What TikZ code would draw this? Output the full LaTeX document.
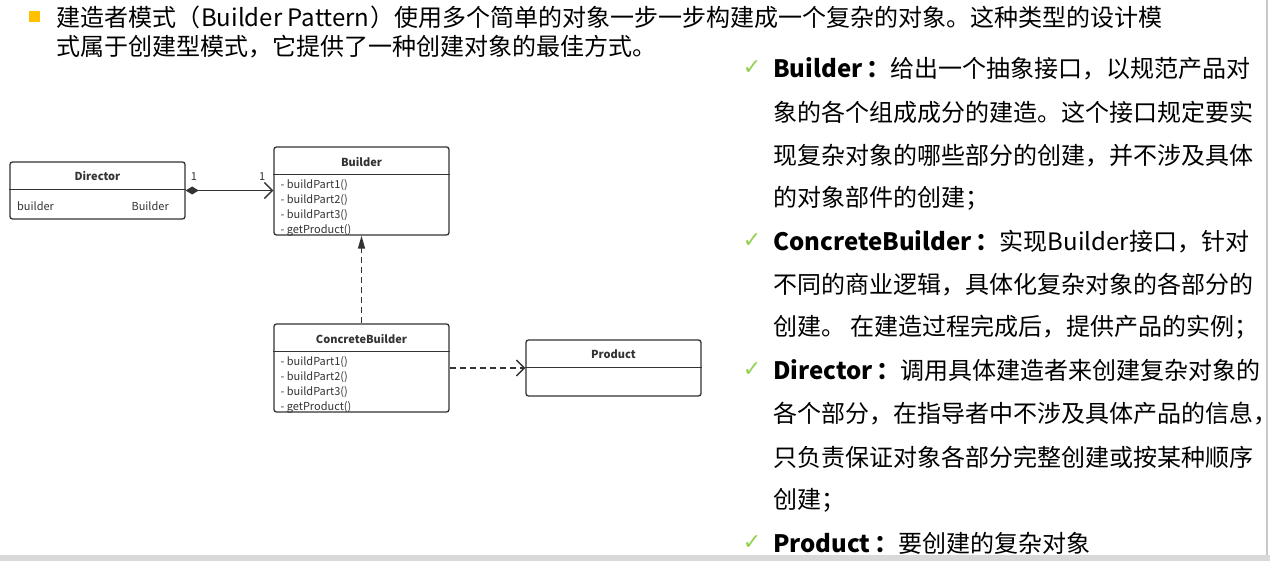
\documentclass[tikz,border=0pt]{standalone}
\usepackage{fontspec}
\setmainfont{Noto Sans}
\newfontfamily\cjk{Noto Sans CJK SC}
\newfontfamily\symfont{DejaVu Sans}
\usetikzlibrary{arrows.meta,positioning}
\definecolor{umlgray}{RGB}{51,51,51}
\definecolor{tickgreen}{RGB}{146,208,80}
\definecolor{bulletorange}{RGB}{255,192,0}
\definecolor{bargray}{RGB}{217,217,217}
\definecolor{edgegray}{RGB}{200,200,200}
\newcommand\keyword[1]{{\bfseries #1\hspace{4pt}：}}
\tikzset{
  umlbox/.style={draw=umlgray, line width=1.3pt, rounded corners=2.5pt,
    minimum width=175pt, inner sep=0pt},
  umltitle/.style={font=\cjk\fontsize{11}{13}\selectfont\bfseries, text=umlgray},
  umlops/.style={font=\cjk\fontsize{11}{15}\selectfont, text=umlgray, align=left,
    inner sep=0pt, anchor=north west},
  umlattr/.style={font=\cjk\fontsize{11}{13}\selectfont, text=umlgray, inner sep=0pt},
  mult/.style={font=\cjk\fontsize{11}{13}\selectfont, text=umlgray, inner sep=1pt},
  assoc/.style={draw=umlgray, line width=1.4pt},
  depend/.style={draw=umlgray, line width=1.4pt, dash pattern=on 6pt off 4pt},
  headline/.style={font=\cjk\fontsize{24}{30}\selectfont, anchor=west, inner sep=0pt},
  descline/.style={font=\cjk\fontsize{24}{30}\selectfont, anchor=west, inner sep=0pt},
  tick/.style={font=\symfont\fontsize{22}{24}\selectfont, text=tickgreen, inner sep=0pt},
  sqbullet/.style={fill=bulletorange, minimum size=11pt, inner sep=0pt},
}
\begin{document}
\begin{tikzpicture}[x=1pt, y=-1pt]
  \useasboundingbox (0,0) rectangle (1270,561);
  \fill[bargray] (0,555) rectangle (1270,561);
  \draw[edgegray, line width=1.5pt] (1267,0) -- (1267,555);

  % heading
  \node[sqbullet] (bullet) at (34.5,16.5) {};
  \node[headline] (head1) at (56,17) {建造者模式（\hspace{1pt}Builder Pattern\hspace{1pt}）使用多个简单的对象一步一步构建成一个复杂的对象。这种类型的设计模}
   node[headline] (head2) at (56,47) {式属于创建型模式，它提供了一种创建对象的最佳方式。};

  % classes
  \node[umlbox, minimum height=57pt] (director) at (97.5,190.5) {};
  \node[umlbox, minimum height=88pt] (builder) at (361.5,191) {};
  \node[umlbox, minimum height=88pt] (concrete) at (361.5,368) {};
  \node[umlbox, minimum height=56pt] (product) at (613.5,368) {};
  \foreach \c in {director,builder,concrete,product}
    \draw[umlgray, line width=1.3pt] ([yshift=-28.5pt]\c.north west) -- ([yshift=-28.5pt]\c.north east);
  \node[umltitle] (directortitle) at ([yshift=-15pt]director.north) {Director};
  \node[umltitle] (buildertitle) at ([yshift=-15.5pt]builder.north) {Builder};
  \node[umltitle] (concretetitle) at ([yshift=-15.5pt]concrete.north) {ConcreteBuilder};
  \node[umltitle] (producttitle) at ([yshift=-15pt]product.north) {Product};
  \node[umlattr, anchor=west] (attrname) at (17,206) {builder};
  \node[umlattr, anchor=east] (attrtype) at (169,206) {Builder};
  \node[umlops] (builderops) at ([xshift=7pt, yshift=-33pt]builder.north west)
    {- buildPart1()\\- buildPart2()\\- buildPart3()\\- getProduct()};
  \node[umlops] (concreteops) at ([xshift=7pt, yshift=-33pt]concrete.north west)
    {- buildPart1()\\- buildPart2()\\- buildPart3()\\- getProduct()};

  % relations
  \draw[assoc, {Diamond[length=13pt,width=8pt]}-{Straight Barb[length=8pt,width=16pt]}]
    (director.east) -- (director.east -| builder.west);
  \node[mult, above right=9pt and 4pt of director.east] (multdirector) {1};
  \node[mult, above left=9pt and 7pt of builder.west] (multbuilder) {1};
  \draw[depend, -{Triangle[length=13pt,width=7pt]}] (concrete.north) -- (builder.south);
  \draw[depend, -{Straight Barb[length=8pt,width=16pt]}] (concrete.east) -- (product.west);

  % description
  \foreach \i in {0,4,7,11}
    \node[tick] (tick\i) at (752,{68+43.1*\i}) {✓};
  \node[descline] (desc0) at (773,69) {\keyword{Builder}给出一个抽象接口，以规范产品对}
   node[descline] (desc1) at (773,112.1) {象的各个组成成分的建造。这个接口规定要实}
   node[descline] (desc2) at (773,155.2) {现复杂对象的哪些部分的创建，并不涉及具体}
   node[descline] (desc3) at (773,198.3) {的对象部件的创建；}
   node[descline] (desc4) at (773,241.4) {\keyword{ConcreteBuilder}实现Builder接口，针对}
   node[descline] (desc5) at (773,284.5) {不同的商业逻辑，具体化复杂对象的各部分的}
   node[descline] (desc6) at (773,327.6) {创建。 在建造过程完成后，提供产品的实例；}
   node[descline] (desc7) at (773,370.7) {\keyword{Director}调用具体建造者来创建复杂对象的}
   node[descline] (desc8) at (773,413.8) {各个部分，在指导者中不涉及具体产品的信息，}
   node[descline] (desc9) at (773,456.9) {只负责保证对象各部分完整创建或按某种顺序}
   node[descline] (desc10) at (773,500) {创建；}
   node[descline] (desc11) at (773,543.1) {\keyword{Product}要创建的复杂对象};
\end{tikzpicture}
\end{document}
